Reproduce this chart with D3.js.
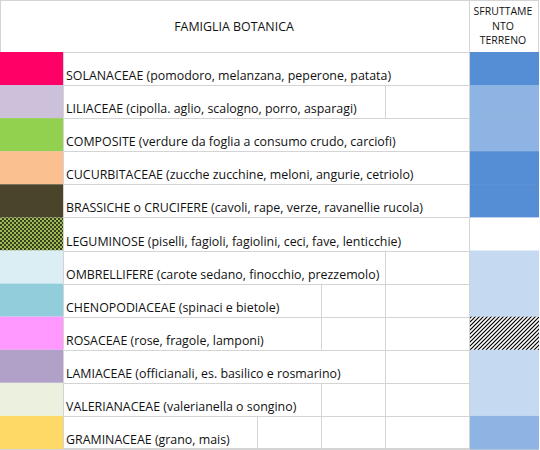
<!DOCTYPE html><html><head><meta charset="utf-8"><script src="https://cdn.jsdelivr.net/npm/d3@7"></script>
<style>body{margin:0;background:#fff}</style></head><body><svg id="c" width="540" height="450"></svg>
<script>
const families=["SOLANACEAE (pomodoro, melanzana, peperone, patata)","LILIACEAE (cipolla. aglio, scalogno, porro, asparagi)","COMPOSITE (verdure da foglia a consumo crudo, carciofi)","CUCURBITACEAE (zucche zucchine, meloni, angurie, cetriolo)","BRASSICHE o CRUCIFERE (cavoli, rape, verze, ravanellie rucola)","LEGUMINOSE (piselli, fagioli, fagiolini, ceci, fave, lenticchie)","OMBRELLIFERE (carote sedano, finocchio, prezzemolo)","CHENOPODIACEAE (spinaci e bietole)","ROSACEAE (rose, fragole, lamponi)","LAMIACEAE (officianali, es. basilico e rosmarino)","VALERIANACEAE (valerianella o songino)","GRAMINACEAE (grano, mais)"];
const familyColors=["#FF0066","#CCC0DA","#92D050","#FAC090","#4A452A","checker","#DAEEF3","#92CDDC","#FF99FF","#B1A0C7","#EBF1DE","#FFD966"];
const sfruttamento=["#558ED5","#8DB4E2","#8DB4E2","#558ED5","#558ED5","#FFFFFF","#C5D9F1","#C5D9F1","hatch","#C5D9F1","#C5D9F1","#8DB4E2"];
const headerLabel="FAMIGLIA BOTANICA", sfrLabel=["SFRUTTAME","NTO","TERRENO"];
const colEdges=[0,63,257,321,385,469,539];
const svg=d3.select("#c");
const defs=svg.append("defs");
const ck=defs.append("pattern").attr("id","ck").attr("width",4).attr("height",4).attr("patternUnits","userSpaceOnUse");
ck.append("rect").attr("width",4).attr("height",4).attr("fill","#9BBB59");
ck.append("rect").attr("width",2).attr("height",2).attr("fill","#3a3f1e");
ck.append("rect").attr("x",2).attr("y",2).attr("width",2).attr("height",2).attr("fill","#3a3f1e");
const ht=defs.append("pattern").attr("id","ht").attr("width",4).attr("height",4).attr("patternUnits","userSpaceOnUse");
ht.append("rect").attr("width",4).attr("height",4).attr("fill","#fff");
ht.append("path").attr("d","M-1,1L1,-1M0,4L4,0M3,5L5,3").attr("stroke","#000").attr("stroke-width",1.2);
const y=d3.scaleBand().domain(d3.range(families.length)).range([52,449]);
const g="#D4D4D4";
// outer header borders
svg.append("rect").attr("x",0.5).attr("y",0.5).attr("width",538).attr("height",448).attr("fill","none").attr("stroke",g);
svg.append("line").attr("x1",0).attr("x2",539).attr("y1",52.5).attr("y2",52.5).attr("stroke",g);
svg.append("line").attr("x1",469.5).attr("x2",469.5).attr("y1",0).attr("y2",449).attr("stroke",g);
const fp=c=>c==="checker"?"url(#ck)":c==="hatch"?"url(#ht)":c;
families.forEach((f,i)=>{
  const y0=y(i),h=y.bandwidth();
  svg.append("line").attr("x1",0).attr("x2",539).attr("y1",Math.round(y0+h)+0.5).attr("y2",Math.round(y0+h)+0.5).attr("stroke",g);
  svg.append("rect").attr("x",0).attr("y",y0).attr("width",63).attr("height",h).attr("fill",fp(familyColors[i]));
  const t=svg.append("text").attr("x",66).attr("y",y0+h-5).attr("font-family","Open Sans").attr("font-size",12.4).attr("fill","#111").text(f);
  const end=66+t.node().getComputedTextLength();
  [257,321,385].forEach(x=>{ if(x>end+1) svg.append("line").attr("x1",x+0.5).attr("x2",x+0.5).attr("y1",y0).attr("y2",y0+h).attr("stroke",g);});
  svg.append("line").attr("x1",63.5).attr("x2",63.5).attr("y1",y0).attr("y2",y0+h).attr("stroke",g);
  svg.append("rect").attr("x",470).attr("y",y0).attr("width",69).attr("height",h+0.5).attr("fill",fp(sfruttamento[i]));
});
svg.append("text").attr("x",234).attr("y",31).attr("text-anchor","middle").attr("font-family","Open Sans").attr("font-size",12.4).attr("fill","#111").text(headerLabel);
sfrLabel.forEach((s,i)=>svg.append("text").attr("x",503).attr("y",15+i*14.5).attr("text-anchor","middle").attr("font-family","Open Sans").attr("font-size",10.5).attr("fill","#111").text(s));
</script></body></html>
